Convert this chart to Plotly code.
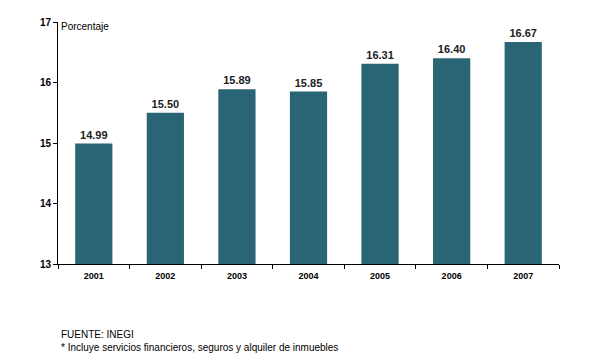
import plotly.graph_objects as go

years = ["2001", "2002", "2003", "2004", "2005", "2006", "2007"]
values = [14.99, 15.50, 15.89, 15.85, 16.31, 16.40, 16.67]
labels = ["14.99", "15.50", "15.89", "15.85", "16.31", "16.40", "16.67"]

FONT = "Liberation Sans, Arial"

fig = go.Figure(go.Bar(
    x=years, y=values, text=labels, textposition="outside",
    marker=dict(color="#2a6575", line=dict(width=0)),
    width=0.52, cliponaxis=False,
    textfont=dict(family=FONT, size=11, color="#222222", weight="bold"),
))

# page body has an 8px margin, so the figure is offset by 8px right and down
fig.update_layout(
    width=600, height=360,
    margin=dict(l=50, r=49, t=8, b=104),
    paper_bgcolor="white", plot_bgcolor="white",
    showlegend=False,
    font=dict(family=FONT, size=9, color="#000000"),
    uniformtext=dict(minsize=11, mode="show"),
)
fig.update_xaxes(
    showline=True, linecolor="black", linewidth=1,
    ticks="outside", ticklen=4, tickcolor="black", tickson="boundaries",
    tickfont=dict(size=9, family=FONT, color="black", weight="bold"),
    ticklabelstandoff=3,
    showgrid=False,
)
fig.update_yaxes(
    range=[13, 17], dtick=1, showline=True, linecolor="black", linewidth=1,
    ticks="outside", ticklen=4, tickcolor="black",
    tickfont=dict(size=10, family=FONT, color="black", weight="bold"),
    showgrid=False, zeroline=False,
)
fig.add_annotation(text="Porcentaje", xref="paper", yref="paper", x=0, y=1.0,
                   xanchor="left", yanchor="middle", xshift=1, yshift=-4,
                   showarrow=False, font=dict(size=10, color="black"))
fig.add_annotation(text="FUENTE: INEGI", xref="paper", yref="paper",
                   x=0, xanchor="left", yanchor="middle",
                   xshift=1, y=0, yshift=-70.5, showarrow=False,
                   font=dict(size=10, color="black"))
fig.add_annotation(text="* Incluye servicios financieros, seguros y alquiler de inmuebles",
                   xref="paper", yref="paper", x=0, xanchor="left", yanchor="middle",
                   xshift=1, y=0, yshift=-83.5, showarrow=False,
                   font=dict(size=10, color="black"))
fig.write_html("out.html")
